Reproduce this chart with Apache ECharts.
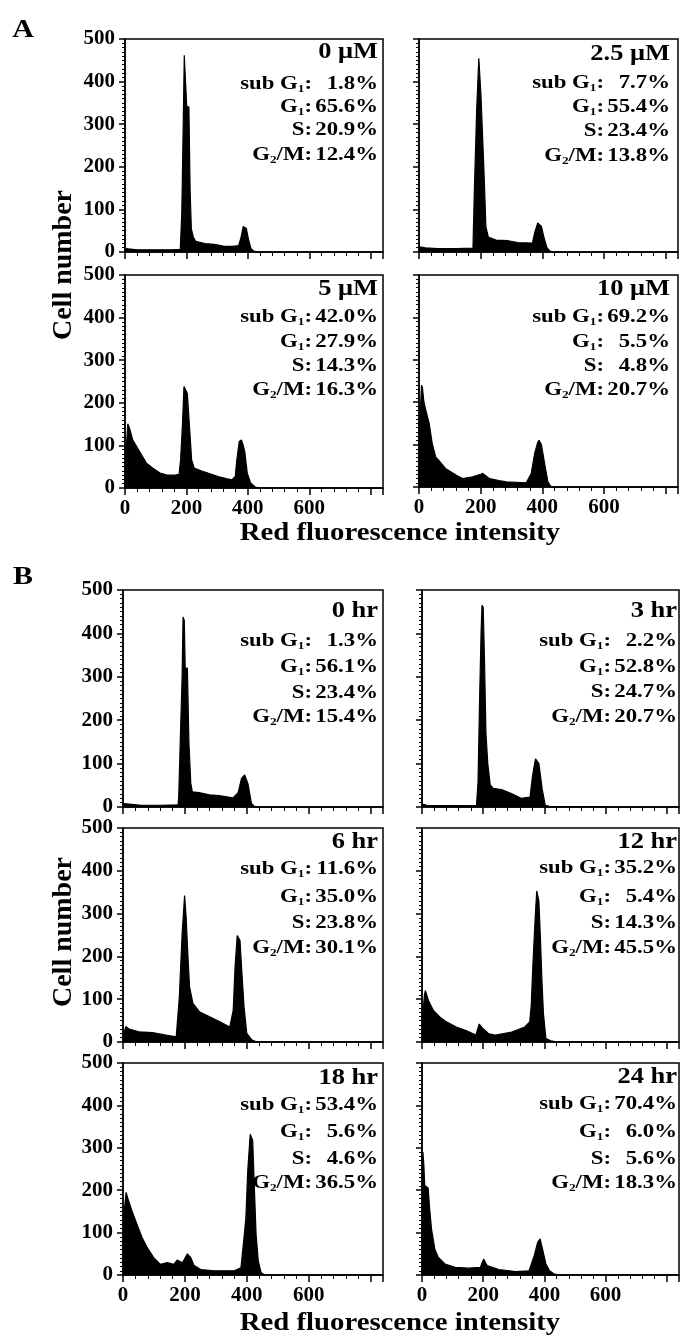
<!DOCTYPE html>
<html><head><meta charset="utf-8">
<script src="https://cdn.jsdelivr.net/npm/echarts@6/dist/echarts.min.js"></script>
<style>html,body{margin:0;padding:0;background:#fff}#c{width:682px;height:1339px}</style>
</head><body><div id="c"></div>
<script>
// ---------- DATA ----------
const panelTitles = ['0 μM','2.5 μM','5 μM','10 μM','0 hr','3 hr','6 hr','12 hr','18 hr','24 hr'];
const subG1 = ['1.8%','7.7%','42.0%','69.2%','1.3%','2.2%','11.6%','35.2%','53.4%','70.4%'];
const g1    = ['65.6%','55.4%','27.9%','5.5%','56.1%','52.8%','35.0%','5.4%','5.6%','6.0%'];
const sPh   = ['20.9%','23.4%','14.3%','4.8%','23.4%','24.7%','23.8%','14.3%','4.6%','5.6%'];
const g2m   = ['12.4%','13.8%','16.3%','20.7%','15.4%','20.7%','30.1%','45.5%','36.5%','18.3%'];
const xTickLabels = ['0','200','400','600'];
const yTickLabels = ['0','100','200','300','400','500'];

// histogram contours: [channel, cell number]
const hist_0uM = [[0,0],[2,8],[8,6],[40,5],[100,5],[150,5],[180,6],[185,95],[190,320],[193,462],[199,462],[201,341],[208,341],[212,145],[216,55],[222,36],[230,25],[260,20],[290,18],[320,14],[350,13],[370,15],[378,35],[385,60],[390,63],[395,55],[402,30],[410,8],[420,2],[430,0],[840,0]];
const hist_2_5uM = [[0,0],[5,12],[11,16],[20,10],[60,8],[120,8],[175,9],[179,130],[187,333],[194,455],[199,455],[201,368],[206,368],[211,185],[217,59],[225,35],[250,28],[286,27],[320,22],[368,21],[375,45],[385,68],[390,71],[397,60],[405,35],[415,10],[425,2],[435,0],[840,0]];
const hist_5uM = [[0,0],[3,80],[9,151],[15,140],[25,113],[48,85],[70,58],[92,46],[114,35],[140,30],[159,30],[176,32],[181,66],[187,148],[192,238],[196,242],[203,222],[209,155],[217,66],[225,47],[250,40],[270,35],[303,27],[330,22],[348,19],[359,27],[364,66],[372,109],[379,113],[385,100],[390,85],[398,35],[409,12],[425,2],[435,0],[840,0]];
const hist_10uM = [[0,0],[3,150],[8,240],[11,235],[16,200],[22,181],[33,150],[43,102],[54,71],[65,62],[87,43],[120,28],[141,20],[174,24],[200,30],[207,32],[228,20],[260,15],[283,12],[348,10],[364,32],[375,79],[385,105],[389,110],[397,100],[408,53],[418,12],[429,0],[840,0]];
const hist_0hr = [[0,0],[2,8],[8,5],[60,4],[120,4],[178,5],[180,24],[186,177],[191,300],[194,438],[198,430],[201,320],[208,320],[213,147],[219,55],[224,35],[246,33],[279,28],[311,26],[355,21],[372,33],[383,66],[393,74],[398,70],[404,53],[415,8],[426,0],[840,0]];
const hist_3hr = [[0,0],[5,6],[10,8],[16,4],[80,3],[178,4],[183,55],[188,239],[193,400],[196,465],[200,460],[204,346],[209,170],[215,100],[223,51],[233,43],[260,40],[292,31],[324,20],[353,23],[361,70],[368,100],[371,111],[382,100],[393,40],[403,4],[419,1],[600,1],[610,0],[840,0]];
const hist_6hr = [[0,0],[3,20],[9,36],[20,30],[52,24],[95,22],[139,16],[172,12],[182,105],[191,253],[199,342],[204,291],[210,198],[215,129],[226,90],[248,70],[280,59],[313,47],[345,35],[356,74],[362,175],[369,249],[375,245],[378,237],[383,175],[391,82],[400,20],[416,5],[432,0],[840,0]];
const hist_12hr = [[0,0],[3,66],[8,110],[11,120],[21,97],[37,74],[59,58],[80,47],[112,35],[144,27],[176,16],[182,20],[187,42],[192,38],[197,33],[219,19],[240,16],[293,23],[336,35],[352,47],[357,85],[363,190],[370,291],[375,353],[382,330],[387,244],[392,143],[397,66],[405,8],[421,3],[443,0],[840,0]];
const hist_18hr = [[0,0],[2,135],[10,195],[18,175],[29,151],[45,120],[62,88],[78,65],[99,41],[121,25],[143,29],[164,25],[175,35],[192,29],[208,50],[219,41],[229,23],[251,13],[294,10],[359,10],[381,17],[392,96],[397,135],[403,246],[411,332],[419,317],[424,214],[430,96],[437,33],[446,6],[457,0],[840,0]];
const hist_24hr = [[0,0],[2,200],[3,290],[6,260],[9,211],[15,209],[20,205],[25,156],[31,109],[42,61],[53,42],[75,26],[108,18],[152,16],[191,18],[197,30],[202,38],[208,28],[213,22],[251,13],[306,8],[350,10],[367,46],[378,77],[386,85],[394,61],[405,26],[417,10],[433,2],[450,0],[840,0]];
const histograms = [hist_0uM,hist_2_5uM,hist_5uM,hist_10uM,hist_0hr,hist_3hr,hist_6hr,hist_12hr,hist_18hr,hist_24hr];

// ---------- LAYOUT ----------
const FONT = '"Liberation Serif","Times New Roman",serif';
const layout = [
  {left:125, top:39,   width:258, height:213, yl:true,  xl:false, tx:378, ty:52,   ly:[84,107,130,155]},
  {left:419, top:39,   width:259, height:213, yl:false, xl:false, tx:670, ty:54,   ly:[83,107,131,156]},
  {left:125, top:275,  width:258, height:213, yl:true,  xl:true,  tx:378, ty:289,  ly:[317,342,366,390]},
  {left:419, top:275,  width:259, height:212, yl:false, xl:true,  tx:670, ty:289,  ly:[317,342,366,390]},
  {left:123, top:590,  width:260, height:217, yl:true,  xl:false, tx:378, ty:611,  ly:[641,667,693,717]},
  {left:422, top:590,  width:257, height:217, yl:false, xl:false, tx:677, ty:611,  ly:[641,667,692,717]},
  {left:123, top:828,  width:260, height:214, yl:true,  xl:false, tx:378, ty:842,  ly:[869,897,923,948]},
  {left:422, top:828,  width:257, height:214, yl:false, xl:false, tx:677, ty:842,  ly:[868,897,923,948]},
  {left:123, top:1063, width:260, height:212, yl:true,  xl:true,  tx:378, ty:1078, ly:[1105,1132,1159,1183]},
  {left:422, top:1063, width:257, height:212, yl:false, xl:true,  tx:677, ty:1077, ly:[1104,1132,1159,1183]}
];

const grids=[], xAxes=[], yAxes=[], series=[], graphics=[];
const lbl = {color:'#000', fontFamily:FONT, fontWeight:'bold', fontSize:21};
const SX = 1.2;
const rich = {
  l:{fontFamily:FONT, fontWeight:'bold', fontSize:19, color:'#000'},
  s:{fontFamily:FONT, fontWeight:'bold', fontSize:11, color:'#000', padding:[10,0,0,0]},
  v:{fontFamily:FONT, fontWeight:'bold', fontSize:19, color:'#000', width:55, align:'right'}
};
function txt(x,y,text,opt,sx){
  return {type:'text', x:x, y:y, scaleX:sx||SX, silent:true,
    style:Object.assign({x:0,y:0,text:text,fill:'#000',align:'right',verticalAlign:'middle',
      font:'bold 19px '+FONT, rich:rich}, opt||{})};
}

layout.forEach((L,i)=>{
  grids.push({left:L.left, top:L.top, width:L.width, height:L.height, show:true,
    borderColor:'#000', borderWidth:1.5, backgroundColor:'transparent'});
  xAxes.push({gridIndex:i, type:'value', min:0, max:840, interval:200,
    axisLine:{show:true, onZero:false, lineStyle:{color:'#000', width:1.5}},
    axisTick:{show:true, length:7, lineStyle:{color:'#000', width:1.5}},
    minorTick:{show:true, splitNumber:5, length:4, lineStyle:{color:'#000', width:1}},
    splitLine:{show:false},
    axisLabel:Object.assign({show:L.xl, margin:10, formatter:v=>xTickLabels.includes(String(v))?String(v):''}, lbl)});
  yAxes.push({gridIndex:i, type:'value', min:0, max:500, interval:100,
    axisLine:{show:true, lineStyle:{color:'#000', width:1.5}},
    axisTick:{show:true, length:6, lineStyle:{color:'#000', width:1.5}},
    minorTick:{show:true, splitNumber:10, length:3, lineStyle:{color:'#000', width:1}},
    splitLine:{show:false},
    axisLabel:Object.assign({show:L.yl, margin:10, formatter:v=>yTickLabels.includes(String(v))?String(v):''}, lbl)});
  series.push({type:'line', xAxisIndex:i, yAxisIndex:i, data:histograms[i], symbol:'none', showSymbol:false,
    lineStyle:{color:'#000', width:1.2}, areaStyle:{color:'#000', opacity:1}, silent:true, clip:true});
  graphics.push(txt(L.tx, L.ty, panelTitles[i], {font:'bold 23px '+FONT}, 1.15));
  graphics.push(txt(L.tx, L.ly[0], '{l|sub G}{s|1}{l|:}{v|'+subG1[i]+'}'));
  graphics.push(txt(L.tx, L.ly[1], '{l|G}{s|1}{l|:}{v|'+g1[i]+'}'));
  graphics.push(txt(L.tx, L.ly[2], '{l|S:}{v|'+sPh[i]+'}'));
  graphics.push(txt(L.tx, L.ly[3], '{l|G}{s|2}{l|/M:}{v|'+g2m[i]+'}'));
});

// panel letters and axis titles
graphics.push({type:'text', x:23, y:31, scaleX:1.2, silent:true, style:{x:0,y:0,text:'A', fill:'#000', align:'center', verticalAlign:'middle', font:'bold 25px '+FONT}});
graphics.push({type:'text', x:23, y:578, scaleX:1.2, silent:true, style:{x:0,y:0,text:'B', fill:'#000', align:'center', verticalAlign:'middle', font:'bold 25px '+FONT}});
graphics.push({type:'text', x:400, y:534, scaleX:1.15, silent:true, style:{x:0,y:0,text:'Red fluorescence intensity', fill:'#000', align:'center', verticalAlign:'middle', font:'bold 25px '+FONT}});
graphics.push({type:'text', x:400, y:1324, scaleX:1.15, silent:true, style:{x:0,y:0,text:'Red fluorescence intensity', fill:'#000', align:'center', verticalAlign:'middle', font:'bold 25px '+FONT}});
graphics.push({type:'text', x:64, y:265, rotation:Math.PI/2, silent:true, style:{x:0,y:0,text:'Cell number', fill:'#000', align:'center', verticalAlign:'middle', font:'bold 28px '+FONT}});
graphics.push({type:'text', x:64, y:932, rotation:Math.PI/2, silent:true, style:{x:0,y:0,text:'Cell number', fill:'#000', align:'center', verticalAlign:'middle', font:'bold 28px '+FONT}});

const chart = echarts.init(document.getElementById('c'), null, {renderer:'canvas'});
chart.setOption({animation:false, backgroundColor:'#fff', grid:grids, xAxis:xAxes, yAxis:yAxes, series:series, graphic:graphics});
</script></body></html>
